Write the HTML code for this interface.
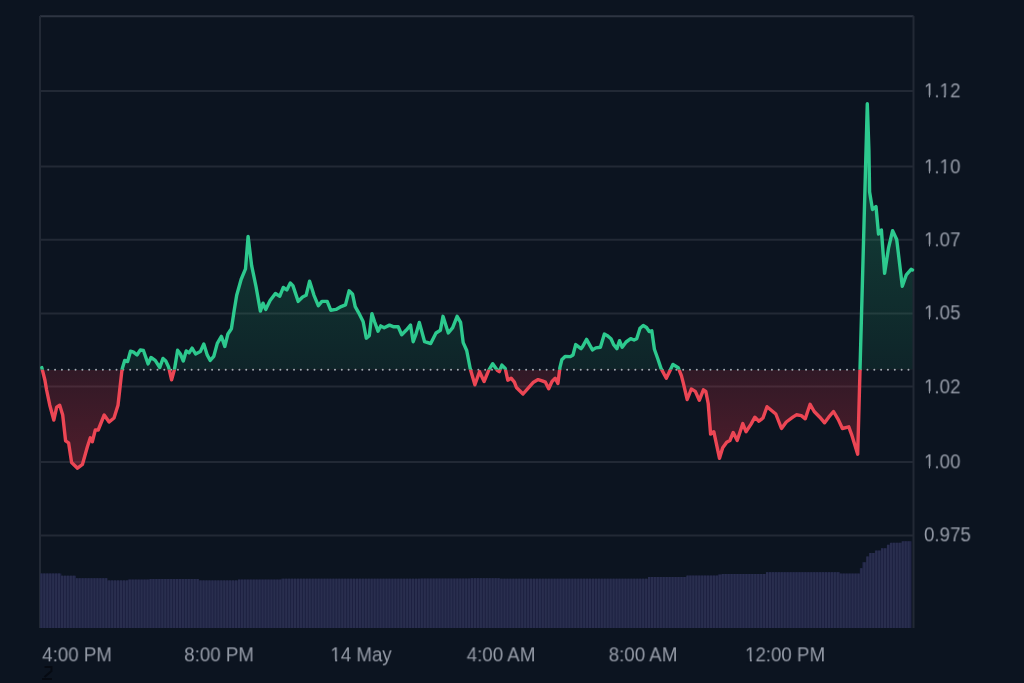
<!DOCTYPE html><html><head><meta charset="utf-8"><style>
html,body{margin:0;padding:0;width:1024px;height:683px;overflow:hidden;background:#0c1420}
body{position:relative;font-family:"Liberation Sans",sans-serif;}
.t{position:absolute;color:#969ca8;font-size:19.2px;line-height:20px;white-space:nowrap;will-change:transform}
.y{left:923.5px;font-size:19px;margin-top:0px;transform:scale(0.985,1.06);transform-origin:0 50%}
.o{position:relative}.o::before,.o::after{content:"";position:absolute;top:0.775em;height:0.13em;width:0.19em;background:#0c1420}.o::before{left:0.05em}.o::after{left:0.342em}
.x{top:644.5px}
</style></head><body>
<svg width="1024" height="683" viewBox="0 0 1024 683" style="position:absolute;left:0;top:0">
<defs>
<clipPath id="ca"><rect x="0" y="0" width="1024" height="369.8"/></clipPath>
<clipPath id="cb"><rect x="0" y="369.8" width="1024" height="313.2"/></clipPath>
<linearGradient id="gg" x1="0" y1="16" x2="0" y2="369.8" gradientUnits="userSpaceOnUse"><stop offset="0" stop-color="#28c882" stop-opacity="0.36"/><stop offset="1" stop-color="#28c882" stop-opacity="0.09"/></linearGradient>
<linearGradient id="rg" x1="0" y1="369.8" x2="0" y2="470" gradientUnits="userSpaceOnUse"><stop offset="0" stop-color="#f03246" stop-opacity="0.16"/><stop offset="1" stop-color="#f03246" stop-opacity="0.30"/></linearGradient>
</defs>
<rect width="1024" height="683" fill="#0c1420"/>
<g stroke="#222935" stroke-width="2">
<line x1="40" y1="16.2" x2="913.5" y2="16.2" stroke="#2e3542"/>
<line x1="40" y1="91.1" x2="913.5" y2="91.1"/>
<line x1="40" y1="166.6" x2="913.5" y2="166.6"/>
<line x1="40" y1="239.7" x2="913.5" y2="239.7"/>
<line x1="40" y1="313.4" x2="913.5" y2="313.4"/>
<line x1="40" y1="386.6" x2="913.5" y2="386.6"/>
<line x1="40" y1="461.9" x2="913.5" y2="461.9"/>
<line x1="40" y1="535.4" x2="913.5" y2="535.4"/>
<line x1="40" y1="16" x2="40" y2="628"/>
<line x1="913.5" y1="16" x2="913.5" y2="628"/>
</g>
<path d="M40.3 628 L40.3 573.5 L61.4 573.5 L61.4 575.7 L76 575.7 L76 578.2 L107.3 578.2 L107.3 580.4 L127.8 580.4 L127.8 579.6 L150 579.6 L150 579 L199 579 L199 580.4 L238 580.4 L238 579.6 L281 579.6 L281 578.7 L420 578.7 L420 578.6 L470 578.6 L470 578.2 L500 578.2 L500 578.7 L648 578.7 L648 577 L687 577 L687 575.6 L718 575.6 L718 574.6 L722 574.6 L722 574 L766 574 L766 572.2 L840 572.2 L840 573.6 L859.8 573.6 L859.8 568.2 L862.3 568.2 L862.3 562.3 L866.4 562.3 L866.4 556.5 L869.3 556.5 L869.3 553 L875.2 553 L875.2 550.6 L881 550.6 L881 548.3 L886.9 548.3 L886.9 544.8 L890.8 544.8 L890.8 542.8 L902.5 542.8 L902.5 541.3 L911.5 541.3 L911.5 628 Z" fill="#1c2040"/>
<g fill="#292e4e"><rect x="40.3" y="573.5" width="2.05" height="54.5"/><rect x="43.25" y="573.5" width="2.05" height="54.5"/><rect x="46.2" y="573.5" width="2.05" height="54.5"/><rect x="49.15" y="573.5" width="2.05" height="54.5"/><rect x="52.1" y="573.5" width="2.05" height="54.5"/><rect x="55.05" y="573.5" width="2.05" height="54.5"/><rect x="58" y="573.5" width="2.05" height="54.5"/><rect x="60.95" y="575.7" width="2.05" height="52.3"/><rect x="63.9" y="575.7" width="2.05" height="52.3"/><rect x="66.85" y="575.7" width="2.05" height="52.3"/><rect x="69.8" y="575.7" width="2.05" height="52.3"/><rect x="72.75" y="575.7" width="2.05" height="52.3"/><rect x="75.7" y="578.2" width="2.05" height="49.8"/><rect x="78.65" y="578.2" width="2.05" height="49.8"/><rect x="81.6" y="578.2" width="2.05" height="49.8"/><rect x="84.55" y="578.2" width="2.05" height="49.8"/><rect x="87.5" y="578.2" width="2.05" height="49.8"/><rect x="90.45" y="578.2" width="2.05" height="49.8"/><rect x="93.4" y="578.2" width="2.05" height="49.8"/><rect x="96.35" y="578.2" width="2.05" height="49.8"/><rect x="99.3" y="578.2" width="2.05" height="49.8"/><rect x="102.25" y="578.2" width="2.05" height="49.8"/><rect x="105.2" y="578.2" width="2.05" height="49.8"/><rect x="108.15" y="580.4" width="2.05" height="47.6"/><rect x="111.1" y="580.4" width="2.05" height="47.6"/><rect x="114.05" y="580.4" width="2.05" height="47.6"/><rect x="117" y="580.4" width="2.05" height="47.6"/><rect x="119.95" y="580.4" width="2.05" height="47.6"/><rect x="122.9" y="580.4" width="2.05" height="47.6"/><rect x="125.85" y="580.4" width="2.05" height="47.6"/><rect x="128.8" y="579.6" width="2.05" height="48.4"/><rect x="131.75" y="579.6" width="2.05" height="48.4"/><rect x="134.7" y="579.6" width="2.05" height="48.4"/><rect x="137.65" y="579.6" width="2.05" height="48.4"/><rect x="140.6" y="579.6" width="2.05" height="48.4"/><rect x="143.55" y="579.6" width="2.05" height="48.4"/><rect x="146.5" y="579.6" width="2.05" height="48.4"/><rect x="149.45" y="579" width="2.05" height="49"/><rect x="152.4" y="579" width="2.05" height="49"/><rect x="155.35" y="579" width="2.05" height="49"/><rect x="158.3" y="579" width="2.05" height="49"/><rect x="161.25" y="579" width="2.05" height="49"/><rect x="164.2" y="579" width="2.05" height="49"/><rect x="167.15" y="579" width="2.05" height="49"/><rect x="170.1" y="579" width="2.05" height="49"/><rect x="173.05" y="579" width="2.05" height="49"/><rect x="176" y="579" width="2.05" height="49"/><rect x="178.95" y="579" width="2.05" height="49"/><rect x="181.9" y="579" width="2.05" height="49"/><rect x="184.85" y="579" width="2.05" height="49"/><rect x="187.8" y="579" width="2.05" height="49"/><rect x="190.75" y="579" width="2.05" height="49"/><rect x="193.7" y="579" width="2.05" height="49"/><rect x="196.65" y="579" width="2.05" height="49"/><rect x="199.6" y="580.4" width="2.05" height="47.6"/><rect x="202.55" y="580.4" width="2.05" height="47.6"/><rect x="205.5" y="580.4" width="2.05" height="47.6"/><rect x="208.45" y="580.4" width="2.05" height="47.6"/><rect x="211.4" y="580.4" width="2.05" height="47.6"/><rect x="214.35" y="580.4" width="2.05" height="47.6"/><rect x="217.3" y="580.4" width="2.05" height="47.6"/><rect x="220.25" y="580.4" width="2.05" height="47.6"/><rect x="223.2" y="580.4" width="2.05" height="47.6"/><rect x="226.15" y="580.4" width="2.05" height="47.6"/><rect x="229.1" y="580.4" width="2.05" height="47.6"/><rect x="232.05" y="580.4" width="2.05" height="47.6"/><rect x="235" y="580.4" width="2.05" height="47.6"/><rect x="237.95" y="579.6" width="2.05" height="48.4"/><rect x="240.9" y="579.6" width="2.05" height="48.4"/><rect x="243.85" y="579.6" width="2.05" height="48.4"/><rect x="246.8" y="579.6" width="2.05" height="48.4"/><rect x="249.75" y="579.6" width="2.05" height="48.4"/><rect x="252.7" y="579.6" width="2.05" height="48.4"/><rect x="255.65" y="579.6" width="2.05" height="48.4"/><rect x="258.6" y="579.6" width="2.05" height="48.4"/><rect x="261.55" y="579.6" width="2.05" height="48.4"/><rect x="264.5" y="579.6" width="2.05" height="48.4"/><rect x="267.45" y="579.6" width="2.05" height="48.4"/><rect x="270.4" y="579.6" width="2.05" height="48.4"/><rect x="273.35" y="579.6" width="2.05" height="48.4"/><rect x="276.3" y="579.6" width="2.05" height="48.4"/><rect x="279.25" y="579.6" width="2.05" height="48.4"/><rect x="282.2" y="578.7" width="2.05" height="49.3"/><rect x="285.15" y="578.7" width="2.05" height="49.3"/><rect x="288.1" y="578.7" width="2.05" height="49.3"/><rect x="291.05" y="578.7" width="2.05" height="49.3"/><rect x="294" y="578.7" width="2.05" height="49.3"/><rect x="296.95" y="578.7" width="2.05" height="49.3"/><rect x="299.9" y="578.7" width="2.05" height="49.3"/><rect x="302.85" y="578.7" width="2.05" height="49.3"/><rect x="305.8" y="578.7" width="2.05" height="49.3"/><rect x="308.75" y="578.7" width="2.05" height="49.3"/><rect x="311.7" y="578.7" width="2.05" height="49.3"/><rect x="314.65" y="578.7" width="2.05" height="49.3"/><rect x="317.6" y="578.7" width="2.05" height="49.3"/><rect x="320.55" y="578.7" width="2.05" height="49.3"/><rect x="323.5" y="578.7" width="2.05" height="49.3"/><rect x="326.45" y="578.7" width="2.05" height="49.3"/><rect x="329.4" y="578.7" width="2.05" height="49.3"/><rect x="332.35" y="578.7" width="2.05" height="49.3"/><rect x="335.3" y="578.7" width="2.05" height="49.3"/><rect x="338.25" y="578.7" width="2.05" height="49.3"/><rect x="341.2" y="578.7" width="2.05" height="49.3"/><rect x="344.15" y="578.7" width="2.05" height="49.3"/><rect x="347.1" y="578.7" width="2.05" height="49.3"/><rect x="350.05" y="578.7" width="2.05" height="49.3"/><rect x="353" y="578.7" width="2.05" height="49.3"/><rect x="355.95" y="578.7" width="2.05" height="49.3"/><rect x="358.9" y="578.7" width="2.05" height="49.3"/><rect x="361.85" y="578.7" width="2.05" height="49.3"/><rect x="364.8" y="578.7" width="2.05" height="49.3"/><rect x="367.75" y="578.7" width="2.05" height="49.3"/><rect x="370.7" y="578.7" width="2.05" height="49.3"/><rect x="373.65" y="578.7" width="2.05" height="49.3"/><rect x="376.6" y="578.7" width="2.05" height="49.3"/><rect x="379.55" y="578.7" width="2.05" height="49.3"/><rect x="382.5" y="578.7" width="2.05" height="49.3"/><rect x="385.45" y="578.7" width="2.05" height="49.3"/><rect x="388.4" y="578.7" width="2.05" height="49.3"/><rect x="391.35" y="578.7" width="2.05" height="49.3"/><rect x="394.3" y="578.7" width="2.05" height="49.3"/><rect x="397.25" y="578.7" width="2.05" height="49.3"/><rect x="400.2" y="578.7" width="2.05" height="49.3"/><rect x="403.15" y="578.7" width="2.05" height="49.3"/><rect x="406.1" y="578.7" width="2.05" height="49.3"/><rect x="409.05" y="578.7" width="2.05" height="49.3"/><rect x="412" y="578.7" width="2.05" height="49.3"/><rect x="414.95" y="578.7" width="2.05" height="49.3"/><rect x="417.9" y="578.7" width="2.05" height="49.3"/><rect x="420.85" y="578.6" width="2.05" height="49.4"/><rect x="423.8" y="578.6" width="2.05" height="49.4"/><rect x="426.75" y="578.6" width="2.05" height="49.4"/><rect x="429.7" y="578.6" width="2.05" height="49.4"/><rect x="432.65" y="578.6" width="2.05" height="49.4"/><rect x="435.6" y="578.6" width="2.05" height="49.4"/><rect x="438.55" y="578.6" width="2.05" height="49.4"/><rect x="441.5" y="578.6" width="2.05" height="49.4"/><rect x="444.45" y="578.6" width="2.05" height="49.4"/><rect x="447.4" y="578.6" width="2.05" height="49.4"/><rect x="450.35" y="578.6" width="2.05" height="49.4"/><rect x="453.3" y="578.6" width="2.05" height="49.4"/><rect x="456.25" y="578.6" width="2.05" height="49.4"/><rect x="459.2" y="578.6" width="2.05" height="49.4"/><rect x="462.15" y="578.6" width="2.05" height="49.4"/><rect x="465.1" y="578.6" width="2.05" height="49.4"/><rect x="468.05" y="578.6" width="2.05" height="49.4"/><rect x="471" y="578.2" width="2.05" height="49.8"/><rect x="473.95" y="578.2" width="2.05" height="49.8"/><rect x="476.9" y="578.2" width="2.05" height="49.8"/><rect x="479.85" y="578.2" width="2.05" height="49.8"/><rect x="482.8" y="578.2" width="2.05" height="49.8"/><rect x="485.75" y="578.2" width="2.05" height="49.8"/><rect x="488.7" y="578.2" width="2.05" height="49.8"/><rect x="491.65" y="578.2" width="2.05" height="49.8"/><rect x="494.6" y="578.2" width="2.05" height="49.8"/><rect x="497.55" y="578.2" width="2.05" height="49.8"/><rect x="500.5" y="578.7" width="2.05" height="49.3"/><rect x="503.45" y="578.7" width="2.05" height="49.3"/><rect x="506.4" y="578.7" width="2.05" height="49.3"/><rect x="509.35" y="578.7" width="2.05" height="49.3"/><rect x="512.3" y="578.7" width="2.05" height="49.3"/><rect x="515.25" y="578.7" width="2.05" height="49.3"/><rect x="518.2" y="578.7" width="2.05" height="49.3"/><rect x="521.15" y="578.7" width="2.05" height="49.3"/><rect x="524.1" y="578.7" width="2.05" height="49.3"/><rect x="527.05" y="578.7" width="2.05" height="49.3"/><rect x="530" y="578.7" width="2.05" height="49.3"/><rect x="532.95" y="578.7" width="2.05" height="49.3"/><rect x="535.9" y="578.7" width="2.05" height="49.3"/><rect x="538.85" y="578.7" width="2.05" height="49.3"/><rect x="541.8" y="578.7" width="2.05" height="49.3"/><rect x="544.75" y="578.7" width="2.05" height="49.3"/><rect x="547.7" y="578.7" width="2.05" height="49.3"/><rect x="550.65" y="578.7" width="2.05" height="49.3"/><rect x="553.6" y="578.7" width="2.05" height="49.3"/><rect x="556.55" y="578.7" width="2.05" height="49.3"/><rect x="559.5" y="578.7" width="2.05" height="49.3"/><rect x="562.45" y="578.7" width="2.05" height="49.3"/><rect x="565.4" y="578.7" width="2.05" height="49.3"/><rect x="568.35" y="578.7" width="2.05" height="49.3"/><rect x="571.3" y="578.7" width="2.05" height="49.3"/><rect x="574.25" y="578.7" width="2.05" height="49.3"/><rect x="577.2" y="578.7" width="2.05" height="49.3"/><rect x="580.15" y="578.7" width="2.05" height="49.3"/><rect x="583.1" y="578.7" width="2.05" height="49.3"/><rect x="586.05" y="578.7" width="2.05" height="49.3"/><rect x="589" y="578.7" width="2.05" height="49.3"/><rect x="591.95" y="578.7" width="2.05" height="49.3"/><rect x="594.9" y="578.7" width="2.05" height="49.3"/><rect x="597.85" y="578.7" width="2.05" height="49.3"/><rect x="600.8" y="578.7" width="2.05" height="49.3"/><rect x="603.75" y="578.7" width="2.05" height="49.3"/><rect x="606.7" y="578.7" width="2.05" height="49.3"/><rect x="609.65" y="578.7" width="2.05" height="49.3"/><rect x="612.6" y="578.7" width="2.05" height="49.3"/><rect x="615.55" y="578.7" width="2.05" height="49.3"/><rect x="618.5" y="578.7" width="2.05" height="49.3"/><rect x="621.45" y="578.7" width="2.05" height="49.3"/><rect x="624.4" y="578.7" width="2.05" height="49.3"/><rect x="627.35" y="578.7" width="2.05" height="49.3"/><rect x="630.3" y="578.7" width="2.05" height="49.3"/><rect x="633.25" y="578.7" width="2.05" height="49.3"/><rect x="636.2" y="578.7" width="2.05" height="49.3"/><rect x="639.15" y="578.7" width="2.05" height="49.3"/><rect x="642.1" y="578.7" width="2.05" height="49.3"/><rect x="645.05" y="578.7" width="2.05" height="49.3"/><rect x="648" y="577" width="2.05" height="51"/><rect x="650.95" y="577" width="2.05" height="51"/><rect x="653.9" y="577" width="2.05" height="51"/><rect x="656.85" y="577" width="2.05" height="51"/><rect x="659.8" y="577" width="2.05" height="51"/><rect x="662.75" y="577" width="2.05" height="51"/><rect x="665.7" y="577" width="2.05" height="51"/><rect x="668.65" y="577" width="2.05" height="51"/><rect x="671.6" y="577" width="2.05" height="51"/><rect x="674.55" y="577" width="2.05" height="51"/><rect x="677.5" y="577" width="2.05" height="51"/><rect x="680.45" y="577" width="2.05" height="51"/><rect x="683.4" y="577" width="2.05" height="51"/><rect x="686.35" y="575.6" width="2.05" height="52.4"/><rect x="689.3" y="575.6" width="2.05" height="52.4"/><rect x="692.25" y="575.6" width="2.05" height="52.4"/><rect x="695.2" y="575.6" width="2.05" height="52.4"/><rect x="698.15" y="575.6" width="2.05" height="52.4"/><rect x="701.1" y="575.6" width="2.05" height="52.4"/><rect x="704.05" y="575.6" width="2.05" height="52.4"/><rect x="707" y="575.6" width="2.05" height="52.4"/><rect x="709.95" y="575.6" width="2.05" height="52.4"/><rect x="712.9" y="575.6" width="2.05" height="52.4"/><rect x="715.85" y="575.6" width="2.05" height="52.4"/><rect x="718.8" y="574.6" width="2.05" height="53.4"/><rect x="721.75" y="574" width="2.05" height="54"/><rect x="724.7" y="574" width="2.05" height="54"/><rect x="727.65" y="574" width="2.05" height="54"/><rect x="730.6" y="574" width="2.05" height="54"/><rect x="733.55" y="574" width="2.05" height="54"/><rect x="736.5" y="574" width="2.05" height="54"/><rect x="739.45" y="574" width="2.05" height="54"/><rect x="742.4" y="574" width="2.05" height="54"/><rect x="745.35" y="574" width="2.05" height="54"/><rect x="748.3" y="574" width="2.05" height="54"/><rect x="751.25" y="574" width="2.05" height="54"/><rect x="754.2" y="574" width="2.05" height="54"/><rect x="757.15" y="574" width="2.05" height="54"/><rect x="760.1" y="574" width="2.05" height="54"/><rect x="763.05" y="574" width="2.05" height="54"/><rect x="766" y="572.2" width="2.05" height="55.8"/><rect x="768.95" y="572.2" width="2.05" height="55.8"/><rect x="771.9" y="572.2" width="2.05" height="55.8"/><rect x="774.85" y="572.2" width="2.05" height="55.8"/><rect x="777.8" y="572.2" width="2.05" height="55.8"/><rect x="780.75" y="572.2" width="2.05" height="55.8"/><rect x="783.7" y="572.2" width="2.05" height="55.8"/><rect x="786.65" y="572.2" width="2.05" height="55.8"/><rect x="789.6" y="572.2" width="2.05" height="55.8"/><rect x="792.55" y="572.2" width="2.05" height="55.8"/><rect x="795.5" y="572.2" width="2.05" height="55.8"/><rect x="798.45" y="572.2" width="2.05" height="55.8"/><rect x="801.4" y="572.2" width="2.05" height="55.8"/><rect x="804.35" y="572.2" width="2.05" height="55.8"/><rect x="807.3" y="572.2" width="2.05" height="55.8"/><rect x="810.25" y="572.2" width="2.05" height="55.8"/><rect x="813.2" y="572.2" width="2.05" height="55.8"/><rect x="816.15" y="572.2" width="2.05" height="55.8"/><rect x="819.1" y="572.2" width="2.05" height="55.8"/><rect x="822.05" y="572.2" width="2.05" height="55.8"/><rect x="825" y="572.2" width="2.05" height="55.8"/><rect x="827.95" y="572.2" width="2.05" height="55.8"/><rect x="830.9" y="572.2" width="2.05" height="55.8"/><rect x="833.85" y="572.2" width="2.05" height="55.8"/><rect x="836.8" y="572.2" width="2.05" height="55.8"/><rect x="839.75" y="573.6" width="2.05" height="54.4"/><rect x="842.7" y="573.6" width="2.05" height="54.4"/><rect x="845.65" y="573.6" width="2.05" height="54.4"/><rect x="848.6" y="573.6" width="2.05" height="54.4"/><rect x="851.55" y="573.6" width="2.05" height="54.4"/><rect x="854.5" y="573.6" width="2.05" height="54.4"/><rect x="857.45" y="573.6" width="2.05" height="54.4"/><rect x="860.4" y="568.2" width="2.05" height="59.8"/><rect x="863.35" y="562.3" width="2.05" height="65.7"/><rect x="866.3" y="556.5" width="2.05" height="71.5"/><rect x="869.25" y="553" width="2.05" height="75"/><rect x="872.2" y="553" width="2.05" height="75"/><rect x="875.15" y="550.6" width="2.05" height="77.4"/><rect x="878.1" y="550.6" width="2.05" height="77.4"/><rect x="881.05" y="548.3" width="2.05" height="79.7"/><rect x="884" y="548.3" width="2.05" height="79.7"/><rect x="886.95" y="544.8" width="2.05" height="83.2"/><rect x="889.9" y="542.8" width="2.05" height="85.2"/><rect x="892.85" y="542.8" width="2.05" height="85.2"/><rect x="895.8" y="542.8" width="2.05" height="85.2"/><rect x="898.75" y="542.8" width="2.05" height="85.2"/><rect x="901.7" y="541.3" width="2.05" height="86.7"/><rect x="904.65" y="541.3" width="2.05" height="86.7"/><rect x="907.6" y="541.3" width="2.05" height="86.7"/><rect x="910.55" y="541.3" width="0.5" height="86.7"/></g>
<path d="M41.8 367.6 L44.9 380 L46.6 390 L49.8 405.2 L53.8 420 L56.7 407.2 L59.7 405.2 L62.7 415 L65.6 440.8 L68.6 442.8 L71.6 462.5 L77.5 468.2 L82.4 464.5 L87.4 446.7 L90.3 437.8 L92.3 441.8 L95.3 430 L98.2 430 L104.2 415 L109.1 422 L114 418 L118 405.2 L122 369.6 L124.7 360.4 L127.6 361.6 L130.5 351.2 L133.5 352.2 L137 355 L140.3 349.9 L143.4 350.5 L148.1 363.9 L151 357.5 L155.2 360.4 L159.8 367.5 L163 358.4 L165.8 361 L168.6 366.9 L171.6 379.8 L174.5 369.2 L177.6 350.3 L180.4 354 L183.3 361 L186.2 351 L189.1 352.8 L192.1 348.1 L195.6 354 L200.3 351.6 L203.8 344 L207.3 355.2 L210.2 360.4 L213.8 356.3 L217.3 343.4 L221.4 336.4 L224.8 346.5 L227.9 334 L231.4 328.7 L234.1 311.1 L236.7 295.3 L241.1 279.5 L245.5 268.9 L248.1 236.4 L251.6 265.4 L256 286.5 L260.4 311.1 L263 303.2 L265.7 309.4 L270.1 300.6 L275.4 293.5 L279.8 296.2 L283.3 287.4 L286.8 290 L290.3 283 L292.9 285.6 L298.2 301.4 L302.6 297 L306.1 295.3 L309.6 281.2 L314 295.3 L318.4 305.8 L321.9 301.4 L327.2 301.4 L330.7 310.2 L336 309.4 L341.1 306.6 L345.5 304.9 L349.1 290.8 L352.6 294.3 L355.2 306.6 L358.7 312.8 L363.1 321.5 L366.3 338.2 L369.3 335.6 L371.9 313.6 L374.5 321.5 L378 331.2 L380.7 325.9 L384.2 327.7 L389.5 325.1 L393.8 326.8 L398.2 326.8 L401.7 334.7 L406.1 330.3 L410.5 325.1 L413.2 341.7 L415.8 334.7 L419.3 322.4 L424.6 341.7 L430.7 343.5 L436 333 L440.4 330.3 L443 316.3 L448.3 333 L452.7 327.7 L457.1 316.3 L460.6 322.4 L463.2 342.6 L466.7 350.5 L470.3 369 L474.9 384.8 L479.5 371.7 L484.1 381.5 L488.7 370.3 L492.7 363.7 L497.3 370.3 L499.3 371.7 L501.9 365.1 L505.2 368.4 L507.8 380.2 L511.1 378.2 L514.4 382.2 L516.4 387.5 L523 394 L528.2 388.1 L533.5 382.2 L538.1 379.6 L542.1 380.9 L545.4 382.2 L548.7 388.8 L552 381.5 L555.2 378.2 L557.9 383.5 L559.9 367.7 L561.8 359.8 L565.1 356.5 L570.4 356.6 L573 355 L575.7 344.6 L581 348.6 L582.6 346.6 L586.6 339.4 L589.9 345.3 L592.5 349.9 L595.8 347.9 L600.4 347.3 L604.4 334.1 L607 335.4 L611 338.7 L613.6 344.6 L616.9 348.6 L619.5 340.7 L622.2 347.3 L626.1 342 L630.7 338.7 L634 340 L636.7 338.7 L640 328.2 L643.2 325.5 L646.5 327.5 L649.2 331.5 L651.8 330.8 L654.4 349.3 L657.7 358.5 L661 368.4 L666.3 378.2 L670.2 370.3 L672.9 364.4 L678.2 367.7 L681.4 375.6 L683.2 382.6 L687.2 399.5 L691.3 389 L695.3 391.4 L699.3 400.3 L703.4 389.8 L705.8 391.4 L708.2 403.5 L710.6 434.1 L713.8 431.7 L719.5 458.3 L722.7 447.8 L726.7 442.2 L729.9 440.5 L733.2 432.5 L737.2 440.5 L742.8 423.6 L746 431.7 L750.9 424.4 L754.9 417.2 L758.9 421.2 L763 418 L767 406.7 L775.8 414 L781.5 428.5 L786.3 422 L792.8 417.2 L796.4 414.8 L801.3 415.6 L805.3 418.8 L810.1 404.3 L814.2 411.5 L819.8 417.2 L824.6 422.8 L828.7 417.2 L833.5 411.5 L838.3 419.6 L842.4 428.5 L848.8 426.8 L852 435.7 L857.7 454.2 L867.3 103.8 L868.9 150 L869.6 192 L872.5 209.5 L876 206.5 L878.5 234 L881.4 230 L884.6 273.3 L888.6 247.6 L892.6 230.7 L896.7 239.5 L902.3 286.2 L906.3 274.9 L911.1 269.3 L912.5 270 L912.5 369.8 L41.8 369.8 Z" fill="url(#gg)" clip-path="url(#ca)"/>
<path d="M41.8 367.6 L44.9 380 L46.6 390 L49.8 405.2 L53.8 420 L56.7 407.2 L59.7 405.2 L62.7 415 L65.6 440.8 L68.6 442.8 L71.6 462.5 L77.5 468.2 L82.4 464.5 L87.4 446.7 L90.3 437.8 L92.3 441.8 L95.3 430 L98.2 430 L104.2 415 L109.1 422 L114 418 L118 405.2 L122 369.6 L124.7 360.4 L127.6 361.6 L130.5 351.2 L133.5 352.2 L137 355 L140.3 349.9 L143.4 350.5 L148.1 363.9 L151 357.5 L155.2 360.4 L159.8 367.5 L163 358.4 L165.8 361 L168.6 366.9 L171.6 379.8 L174.5 369.2 L177.6 350.3 L180.4 354 L183.3 361 L186.2 351 L189.1 352.8 L192.1 348.1 L195.6 354 L200.3 351.6 L203.8 344 L207.3 355.2 L210.2 360.4 L213.8 356.3 L217.3 343.4 L221.4 336.4 L224.8 346.5 L227.9 334 L231.4 328.7 L234.1 311.1 L236.7 295.3 L241.1 279.5 L245.5 268.9 L248.1 236.4 L251.6 265.4 L256 286.5 L260.4 311.1 L263 303.2 L265.7 309.4 L270.1 300.6 L275.4 293.5 L279.8 296.2 L283.3 287.4 L286.8 290 L290.3 283 L292.9 285.6 L298.2 301.4 L302.6 297 L306.1 295.3 L309.6 281.2 L314 295.3 L318.4 305.8 L321.9 301.4 L327.2 301.4 L330.7 310.2 L336 309.4 L341.1 306.6 L345.5 304.9 L349.1 290.8 L352.6 294.3 L355.2 306.6 L358.7 312.8 L363.1 321.5 L366.3 338.2 L369.3 335.6 L371.9 313.6 L374.5 321.5 L378 331.2 L380.7 325.9 L384.2 327.7 L389.5 325.1 L393.8 326.8 L398.2 326.8 L401.7 334.7 L406.1 330.3 L410.5 325.1 L413.2 341.7 L415.8 334.7 L419.3 322.4 L424.6 341.7 L430.7 343.5 L436 333 L440.4 330.3 L443 316.3 L448.3 333 L452.7 327.7 L457.1 316.3 L460.6 322.4 L463.2 342.6 L466.7 350.5 L470.3 369 L474.9 384.8 L479.5 371.7 L484.1 381.5 L488.7 370.3 L492.7 363.7 L497.3 370.3 L499.3 371.7 L501.9 365.1 L505.2 368.4 L507.8 380.2 L511.1 378.2 L514.4 382.2 L516.4 387.5 L523 394 L528.2 388.1 L533.5 382.2 L538.1 379.6 L542.1 380.9 L545.4 382.2 L548.7 388.8 L552 381.5 L555.2 378.2 L557.9 383.5 L559.9 367.7 L561.8 359.8 L565.1 356.5 L570.4 356.6 L573 355 L575.7 344.6 L581 348.6 L582.6 346.6 L586.6 339.4 L589.9 345.3 L592.5 349.9 L595.8 347.9 L600.4 347.3 L604.4 334.1 L607 335.4 L611 338.7 L613.6 344.6 L616.9 348.6 L619.5 340.7 L622.2 347.3 L626.1 342 L630.7 338.7 L634 340 L636.7 338.7 L640 328.2 L643.2 325.5 L646.5 327.5 L649.2 331.5 L651.8 330.8 L654.4 349.3 L657.7 358.5 L661 368.4 L666.3 378.2 L670.2 370.3 L672.9 364.4 L678.2 367.7 L681.4 375.6 L683.2 382.6 L687.2 399.5 L691.3 389 L695.3 391.4 L699.3 400.3 L703.4 389.8 L705.8 391.4 L708.2 403.5 L710.6 434.1 L713.8 431.7 L719.5 458.3 L722.7 447.8 L726.7 442.2 L729.9 440.5 L733.2 432.5 L737.2 440.5 L742.8 423.6 L746 431.7 L750.9 424.4 L754.9 417.2 L758.9 421.2 L763 418 L767 406.7 L775.8 414 L781.5 428.5 L786.3 422 L792.8 417.2 L796.4 414.8 L801.3 415.6 L805.3 418.8 L810.1 404.3 L814.2 411.5 L819.8 417.2 L824.6 422.8 L828.7 417.2 L833.5 411.5 L838.3 419.6 L842.4 428.5 L848.8 426.8 L852 435.7 L857.7 454.2 L867.3 103.8 L868.9 150 L869.6 192 L872.5 209.5 L876 206.5 L878.5 234 L881.4 230 L884.6 273.3 L888.6 247.6 L892.6 230.7 L896.7 239.5 L902.3 286.2 L906.3 274.9 L911.1 269.3 L912.5 270 L912.5 369.8 L41.8 369.8 Z" fill="url(#rg)" clip-path="url(#cb)"/>
<line x1="48.25" y1="369.8" x2="913" y2="369.8" stroke="#a2a8b0" stroke-width="2" stroke-dasharray="0 6.827" stroke-linecap="round"/>
<path d="M41.8 367.6 L44.9 380 L46.6 390 L49.8 405.2 L53.8 420 L56.7 407.2 L59.7 405.2 L62.7 415 L65.6 440.8 L68.6 442.8 L71.6 462.5 L77.5 468.2 L82.4 464.5 L87.4 446.7 L90.3 437.8 L92.3 441.8 L95.3 430 L98.2 430 L104.2 415 L109.1 422 L114 418 L118 405.2 L122 369.6 L124.7 360.4 L127.6 361.6 L130.5 351.2 L133.5 352.2 L137 355 L140.3 349.9 L143.4 350.5 L148.1 363.9 L151 357.5 L155.2 360.4 L159.8 367.5 L163 358.4 L165.8 361 L168.6 366.9 L171.6 379.8 L174.5 369.2 L177.6 350.3 L180.4 354 L183.3 361 L186.2 351 L189.1 352.8 L192.1 348.1 L195.6 354 L200.3 351.6 L203.8 344 L207.3 355.2 L210.2 360.4 L213.8 356.3 L217.3 343.4 L221.4 336.4 L224.8 346.5 L227.9 334 L231.4 328.7 L234.1 311.1 L236.7 295.3 L241.1 279.5 L245.5 268.9 L248.1 236.4 L251.6 265.4 L256 286.5 L260.4 311.1 L263 303.2 L265.7 309.4 L270.1 300.6 L275.4 293.5 L279.8 296.2 L283.3 287.4 L286.8 290 L290.3 283 L292.9 285.6 L298.2 301.4 L302.6 297 L306.1 295.3 L309.6 281.2 L314 295.3 L318.4 305.8 L321.9 301.4 L327.2 301.4 L330.7 310.2 L336 309.4 L341.1 306.6 L345.5 304.9 L349.1 290.8 L352.6 294.3 L355.2 306.6 L358.7 312.8 L363.1 321.5 L366.3 338.2 L369.3 335.6 L371.9 313.6 L374.5 321.5 L378 331.2 L380.7 325.9 L384.2 327.7 L389.5 325.1 L393.8 326.8 L398.2 326.8 L401.7 334.7 L406.1 330.3 L410.5 325.1 L413.2 341.7 L415.8 334.7 L419.3 322.4 L424.6 341.7 L430.7 343.5 L436 333 L440.4 330.3 L443 316.3 L448.3 333 L452.7 327.7 L457.1 316.3 L460.6 322.4 L463.2 342.6 L466.7 350.5 L470.3 369 L474.9 384.8 L479.5 371.7 L484.1 381.5 L488.7 370.3 L492.7 363.7 L497.3 370.3 L499.3 371.7 L501.9 365.1 L505.2 368.4 L507.8 380.2 L511.1 378.2 L514.4 382.2 L516.4 387.5 L523 394 L528.2 388.1 L533.5 382.2 L538.1 379.6 L542.1 380.9 L545.4 382.2 L548.7 388.8 L552 381.5 L555.2 378.2 L557.9 383.5 L559.9 367.7 L561.8 359.8 L565.1 356.5 L570.4 356.6 L573 355 L575.7 344.6 L581 348.6 L582.6 346.6 L586.6 339.4 L589.9 345.3 L592.5 349.9 L595.8 347.9 L600.4 347.3 L604.4 334.1 L607 335.4 L611 338.7 L613.6 344.6 L616.9 348.6 L619.5 340.7 L622.2 347.3 L626.1 342 L630.7 338.7 L634 340 L636.7 338.7 L640 328.2 L643.2 325.5 L646.5 327.5 L649.2 331.5 L651.8 330.8 L654.4 349.3 L657.7 358.5 L661 368.4 L666.3 378.2 L670.2 370.3 L672.9 364.4 L678.2 367.7 L681.4 375.6 L683.2 382.6 L687.2 399.5 L691.3 389 L695.3 391.4 L699.3 400.3 L703.4 389.8 L705.8 391.4 L708.2 403.5 L710.6 434.1 L713.8 431.7 L719.5 458.3 L722.7 447.8 L726.7 442.2 L729.9 440.5 L733.2 432.5 L737.2 440.5 L742.8 423.6 L746 431.7 L750.9 424.4 L754.9 417.2 L758.9 421.2 L763 418 L767 406.7 L775.8 414 L781.5 428.5 L786.3 422 L792.8 417.2 L796.4 414.8 L801.3 415.6 L805.3 418.8 L810.1 404.3 L814.2 411.5 L819.8 417.2 L824.6 422.8 L828.7 417.2 L833.5 411.5 L838.3 419.6 L842.4 428.5 L848.8 426.8 L852 435.7 L857.7 454.2 L867.3 103.8 L868.9 150 L869.6 192 L872.5 209.5 L876 206.5 L878.5 234 L881.4 230 L884.6 273.3 L888.6 247.6 L892.6 230.7 L896.7 239.5 L902.3 286.2 L906.3 274.9 L911.1 269.3 L912.5 270" fill="none" stroke="#2dc98e" stroke-width="3.4" stroke-linejoin="round" stroke-linecap="round" clip-path="url(#ca)"/>
<path d="M41.8 367.6 L44.9 380 L46.6 390 L49.8 405.2 L53.8 420 L56.7 407.2 L59.7 405.2 L62.7 415 L65.6 440.8 L68.6 442.8 L71.6 462.5 L77.5 468.2 L82.4 464.5 L87.4 446.7 L90.3 437.8 L92.3 441.8 L95.3 430 L98.2 430 L104.2 415 L109.1 422 L114 418 L118 405.2 L122 369.6 L124.7 360.4 L127.6 361.6 L130.5 351.2 L133.5 352.2 L137 355 L140.3 349.9 L143.4 350.5 L148.1 363.9 L151 357.5 L155.2 360.4 L159.8 367.5 L163 358.4 L165.8 361 L168.6 366.9 L171.6 379.8 L174.5 369.2 L177.6 350.3 L180.4 354 L183.3 361 L186.2 351 L189.1 352.8 L192.1 348.1 L195.6 354 L200.3 351.6 L203.8 344 L207.3 355.2 L210.2 360.4 L213.8 356.3 L217.3 343.4 L221.4 336.4 L224.8 346.5 L227.9 334 L231.4 328.7 L234.1 311.1 L236.7 295.3 L241.1 279.5 L245.5 268.9 L248.1 236.4 L251.6 265.4 L256 286.5 L260.4 311.1 L263 303.2 L265.7 309.4 L270.1 300.6 L275.4 293.5 L279.8 296.2 L283.3 287.4 L286.8 290 L290.3 283 L292.9 285.6 L298.2 301.4 L302.6 297 L306.1 295.3 L309.6 281.2 L314 295.3 L318.4 305.8 L321.9 301.4 L327.2 301.4 L330.7 310.2 L336 309.4 L341.1 306.6 L345.5 304.9 L349.1 290.8 L352.6 294.3 L355.2 306.6 L358.7 312.8 L363.1 321.5 L366.3 338.2 L369.3 335.6 L371.9 313.6 L374.5 321.5 L378 331.2 L380.7 325.9 L384.2 327.7 L389.5 325.1 L393.8 326.8 L398.2 326.8 L401.7 334.7 L406.1 330.3 L410.5 325.1 L413.2 341.7 L415.8 334.7 L419.3 322.4 L424.6 341.7 L430.7 343.5 L436 333 L440.4 330.3 L443 316.3 L448.3 333 L452.7 327.7 L457.1 316.3 L460.6 322.4 L463.2 342.6 L466.7 350.5 L470.3 369 L474.9 384.8 L479.5 371.7 L484.1 381.5 L488.7 370.3 L492.7 363.7 L497.3 370.3 L499.3 371.7 L501.9 365.1 L505.2 368.4 L507.8 380.2 L511.1 378.2 L514.4 382.2 L516.4 387.5 L523 394 L528.2 388.1 L533.5 382.2 L538.1 379.6 L542.1 380.9 L545.4 382.2 L548.7 388.8 L552 381.5 L555.2 378.2 L557.9 383.5 L559.9 367.7 L561.8 359.8 L565.1 356.5 L570.4 356.6 L573 355 L575.7 344.6 L581 348.6 L582.6 346.6 L586.6 339.4 L589.9 345.3 L592.5 349.9 L595.8 347.9 L600.4 347.3 L604.4 334.1 L607 335.4 L611 338.7 L613.6 344.6 L616.9 348.6 L619.5 340.7 L622.2 347.3 L626.1 342 L630.7 338.7 L634 340 L636.7 338.7 L640 328.2 L643.2 325.5 L646.5 327.5 L649.2 331.5 L651.8 330.8 L654.4 349.3 L657.7 358.5 L661 368.4 L666.3 378.2 L670.2 370.3 L672.9 364.4 L678.2 367.7 L681.4 375.6 L683.2 382.6 L687.2 399.5 L691.3 389 L695.3 391.4 L699.3 400.3 L703.4 389.8 L705.8 391.4 L708.2 403.5 L710.6 434.1 L713.8 431.7 L719.5 458.3 L722.7 447.8 L726.7 442.2 L729.9 440.5 L733.2 432.5 L737.2 440.5 L742.8 423.6 L746 431.7 L750.9 424.4 L754.9 417.2 L758.9 421.2 L763 418 L767 406.7 L775.8 414 L781.5 428.5 L786.3 422 L792.8 417.2 L796.4 414.8 L801.3 415.6 L805.3 418.8 L810.1 404.3 L814.2 411.5 L819.8 417.2 L824.6 422.8 L828.7 417.2 L833.5 411.5 L838.3 419.6 L842.4 428.5 L848.8 426.8 L852 435.7 L857.7 454.2 L867.3 103.8 L868.9 150 L869.6 192 L872.5 209.5 L876 206.5 L878.5 234 L881.4 230 L884.6 273.3 L888.6 247.6 L892.6 230.7 L896.7 239.5 L902.3 286.2 L906.3 274.9 L911.1 269.3 L912.5 270" fill="none" stroke="#ec4654" stroke-width="3.4" stroke-linejoin="round" stroke-linecap="round" clip-path="url(#cb)"/>
</svg>
<div class="t y" style="top:81.1px"><span class="o">1</span>.<span class="o">1</span>2</div>
<div class="t y" style="top:156.6px"><span class="o">1</span>.<span class="o">1</span>0</div>
<div class="t y" style="top:229.7px"><span class="o">1</span>.07</div>
<div class="t y" style="top:303.4px"><span class="o">1</span>.05</div>
<div class="t y" style="top:376.6px"><span class="o">1</span>.02</div>
<div class="t y" style="top:451.9px"><span class="o">1</span>.00</div>
<div class="t y" style="top:525.4px">0.975</div>
<div class="t x" style="left:76.75px;transform:translateX(-50%) scale(0.975,1.06)">4:00 PM</div>
<div class="t x" style="left:218.85px;transform:translateX(-50%) scale(0.975,1.06)">8:00 PM</div>
<div class="t x" style="left:360.9px;transform:translateX(-50%) scale(0.975,1.06)"><span class="o">1</span>4 May</div>
<div class="t x" style="left:501.25px;transform:translateX(-50%) scale(0.975,1.06)">4:00 AM</div>
<div class="t x" style="left:642.95px;transform:translateX(-50%) scale(0.975,1.06)">8:00 AM</div>
<div class="t x" style="left:784.85px;transform:translateX(-50%) scale(0.975,1.06)"><span class="o">1</span>2:00 PM</div>
<svg style="position:absolute;left:0;top:0" width="1024" height="683"><path d="M44.5 667 L51.5 667 L51.5 671 L44.5 677 M42 679 L52 679" stroke="#060a12" stroke-width="2" fill="none"/></svg>
</body></html>
